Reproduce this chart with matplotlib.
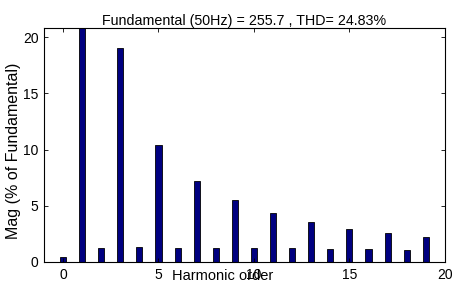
import matplotlib
matplotlib.use('Agg')
import matplotlib.pyplot as plt

# harmonic spectrum, magnitude in % of fundamental
harmonics = list(range(0, 20))
magnitude = [
    0.47, 100.0, 1.25, 19.0, 1.37, 10.4, 1.25, 7.17, 1.25, 5.47,
    1.25, 4.37, 1.25, 3.57, 1.16, 2.95, 1.16, 2.55, 1.07, 2.26
]
x_ticks = [0, 5, 10, 15, 20]
y_ticks = [0, 5, 10, 15, 20]

plt.rcParams['font.family'] = ['Liberation Sans', 'DejaVu Sans']
plt.rcParams['font.size'] = 10

fig = plt.figure(figsize=(4.53, 2.91), dpi=100)
ax = fig.add_axes([0.097, 0.0997, 0.885, 0.804])

ax.bar(harmonics, magnitude, width=0.32, color='#000080', edgecolor='black', linewidth=0.6)

ax.set_xlim(-1, 20)
ax.set_ylim(0, 20.8)
ax.set_xticks(x_ticks)
ax.set_yticks(y_ticks)
ax.tick_params(direction='in', top=True, right=True, length=3, width=0.6, pad=4)
for s in ax.spines.values():
    s.set_linewidth(0.8)

ax.set_title('Fundamental (50Hz) = 255.7 , THD= 24.83%', fontsize=10.3, pad=2)
ax.set_xlabel('Harmonic order', fontsize=10.5)
ax.xaxis.set_label_coords(0.446, -0.03)
ax.set_ylabel('Mag (% of Fundamental)', fontsize=11.5)
ax.yaxis.set_label_coords(-0.057, 0.474)

fig.savefig('out.png', dpi=100)
